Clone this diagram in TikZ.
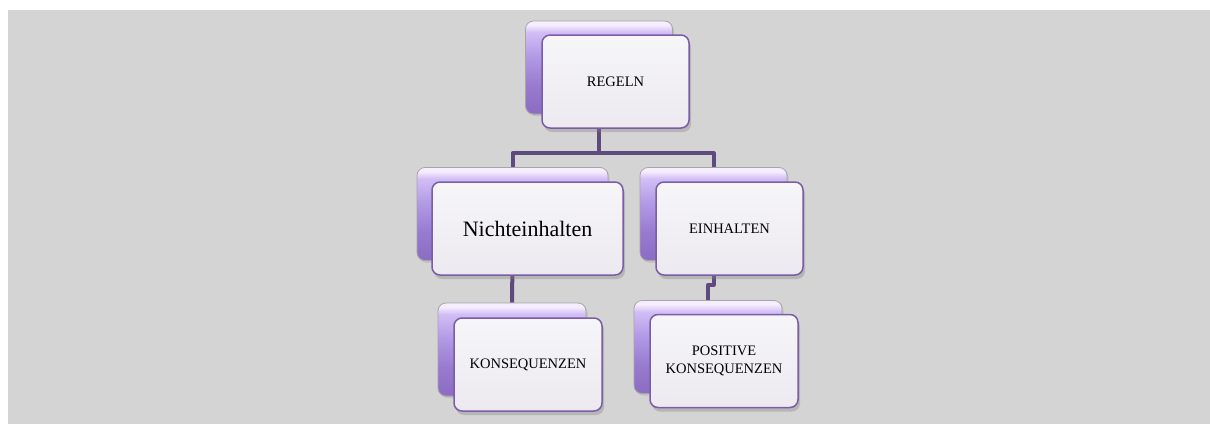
\documentclass[tikz,border=0pt]{standalone}
\usepackage{fontspec}
\setmainfont{Liberation Serif}
\usepackage{tikz}
\usetikzlibrary{shadows, backgrounds}
\usepackage{xcolor}

\definecolor{canvas}{HTML}{D4D4D4}
\definecolor{linkviolet}{HTML}{5F4A80}
\definecolor{frameviolet}{HTML}{7A5DA6}
\definecolor{backtop}{HTML}{F6EEFF}
\definecolor{backhigh}{HTML}{D2BEF5}
\definecolor{backmid}{HTML}{B29AE5}
\definecolor{backbot}{HTML}{8C6CC4}
\definecolor{cardtop}{HTML}{F6F5F8}
\definecolor{cardbot}{HTML}{ECEAF0}

% the node fills the band 25bp..75bp of the shading
\pgfdeclareverticalshading{backshade}{100bp}{color(0bp)=(backbot); color(25bp)=(backbot); color(40bp)=(backbot!70!backmid); color(56bp)=(backmid); color(69bp)=(backhigh); color(73bp)=(backtop); color(100bp)=(backtop)}

\begin{document}
\begin{tikzpicture}[
    x=1pt, y=-1pt,
    backcard/.style = {rectangle, draw=black!35, line width=0.8pt, rounded corners=8pt, shading=backshade, minimum height=93pt, drop shadow={opacity=0.25, shadow xshift=1.5pt, shadow yshift=-2pt}},
    card/.style = {rectangle, draw=frameviolet, line width=1.5pt, rounded corners=8pt, top color=cardtop, bottom color=cardbot, minimum height=93pt, align=center, font=\fontsize{14.5}{17.5}\selectfont, drop shadow={opacity=0.35, shadow xshift=2pt, shadow yshift=-4pt}},
    link/.style = {draw=linkviolet, line width=4pt, line join=round}
]

% Canvas: grey panel with a thin white margin left and top
\useasboundingbox (0,0) rectangle (1210,424);

% Row 1: REGELN
\node (regeln-back) [backcard, minimum width=147pt] at (599, 67.5) {};
\node (regeln) [card, minimum width=147pt] at (615.5, 81.5) {REGELN};

% Row 2: Nichteinhalten (left), EINHALTEN (right)
\node (nicht-back) [backcard, minimum width=191pt] at (512.5, 214) {};
\node (nicht) [card, minimum width=191pt, font=\fontsize{22}{26}\selectfont] at (527.5, 228.5) {Nichteinhalten};
\node (ein-back) [backcard, minimum width=147pt] at (713.5, 214) {};
\node (ein) [card, minimum width=147pt] at (729.5, 228.5) {EINHALTEN};

% Row 3: KONSEQUENZEN (left), POSITIVE KONSEQUENZEN (right)
\node (kons-back) [backcard, minimum width=148pt] at (512, 349.5) {};
\node (kons) [card, minimum width=148pt] at (528, 364.5) {KONSEQUENZEN};
\node (poskons-back) [backcard, minimum width=148pt] at (708, 347) {};
\node (poskons) [card, minimum width=148pt] at (724, 361) {POSITIVE\\KONSEQUENZEN};

% Connections run behind the cards
\begin{scope}[on background layer]
  \fill[canvas] (8,10) rectangle (1210,424);
  \draw [link] (regeln-back.south) -- ++(0,39) coordinate (split);
  \draw [link] (split) -| (nicht-back.north);
  \draw [link] (split) -| (ein-back.north);
  \draw [link] (nicht-back.south) -- (kons-back.north);
  \draw [link] (ein-back.south) -- ++(0,24) -| (poskons-back.north);
\end{scope}

\end{tikzpicture}
\end{document}
